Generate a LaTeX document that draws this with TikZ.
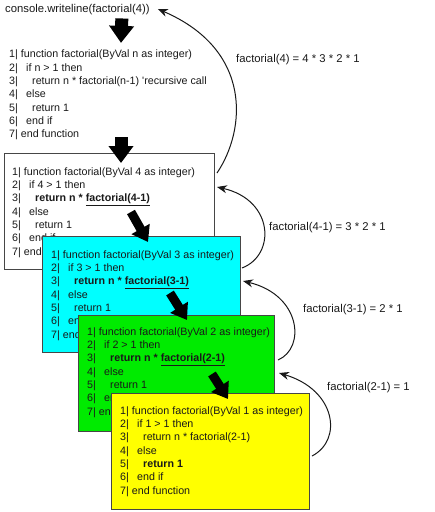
\documentclass[tikz,border=0pt]{standalone}
\usepackage{fontspec}
\setmainfont{Liberation Sans}
\usetikzlibrary{arrows.meta}
\usetikzlibrary{calc}

\definecolor{boxline}{RGB}{70,70,70}
\definecolor{ink}{RGB}{25,25,25}
\definecolor{callcyan}{RGB}{0,255,255}
\definecolor{callgreen}{RGB}{0,235,0}
\definecolor{callyellow}{RGB}{255,255,0}

\newcommand{\lvlone}{\hspace*{8.3pt}}
\newcommand{\lvltwo}{\hspace*{14.3pt}}
\newcommand{\codefont}{\fontsize{10.7}{13.3}\selectfont}
\newcommand{\labelfont}{\fontsize{11.3}{13.5}\selectfont}

\tikzset{
  callbox/.style={draw=boxline,line width=1pt,rectangle,anchor=north west,minimum height=116pt,inner sep=0pt},
  codetext/.style={anchor=west,inner sep=0pt,align=left,font=\codefont,text=ink},
  retlabel/.style={anchor=west,inner sep=0pt,font=\labelfont,text=ink},
  bigarrow/.style={line width=13pt,-{Triangle[length=17pt,width=24pt]}},
  callarrow/.style={line width=9pt,-{Triangle[length=15pt,width=20pt]}},
  retarrow/.style={line width=1pt,draw=ink,-{Stealth[length=10pt,width=8pt]}}
}

\begin{document}
\begin{tikzpicture}[x=1pt,y=-1pt]
\useasboundingbox (0,0) rectangle (435,512);

\node [retlabel] (Call) at (5,10) {console.writeline(factorial(4))};
\node [codetext] (Fun) at (9,95) {1| function factorial(ByVal n as integer)\\
2|\lvlone if n > 1 then\\
3|\lvltwo return n * factorial(n-1) \textquotesingle recursive call\\
4|\lvlone else\\
5|\lvltwo return 1\\
6|\lvlone end if\\
7| end function};

% one box per call
\node [callbox,fill=white,minimum width=210pt] (F4) at (4,153) {};
\node [codetext] (C4) at ($(F4.west)+(8,1)$) {1| function factorial(ByVal 4 as integer)\\
2|\lvlone if 4 > 1 then\\
3|\lvltwo\textbf{return n * \underline{factorial(4-1)}}\\
4|\lvlone else\\
5|\lvltwo return 1\\
6|\lvlone end if\\
7| end function};

\node [callbox,fill=callcyan,minimum width=198pt] (F3) at (42,236) {};
\node [codetext] (C3) at ($(F3.west)+(9,1)$) {1| function factorial(ByVal 3 as integer)\\
2|\lvlone if 3 > 1 then\\
3|\lvltwo\textbf{return n * \underline{factorial(3-1)}}\\
4|\lvlone else\\
5|\lvltwo return 1\\
6|\lvlone end if\\
7| end function};

\node [callbox,fill=callgreen,minimum width=196pt] (F2) at (78,315) {};
\node [codetext] (C2) at ($(F2.west)+(9,-1)$) {1| function factorial(ByVal 2 as integer)\\
2|\lvlone if 2 > 1 then\\
3|\lvltwo\textbf{return n * \underline{factorial(2-1)}}\\
4|\lvlone else\\
5|\lvltwo return 1\\
6|\lvlone end if\\
7| end function};

\node [callbox,fill=callyellow,minimum width=198pt] (F1) at (111,393) {};
\node [codetext] (C1) at ($(F1.west)+(9,0)$) {1| function factorial(ByVal 1 as integer)\\
2|\lvlone if 1 > 1 then\\
3|\lvltwo return n * factorial(2-1)\\
4|\lvlone else\\
5|\lvltwo\textbf{return 1}\\
6|\lvlone end if\\
7| end function};

% calls going down
\draw [bigarrow] ($(Call.south east)+(-28,3)$) -- ($(Fun.north west)+(112,-7)$);
\draw [bigarrow] ($(Fun.south west)+(112,-3)$) -- ($(F4.north west)+(117,10)$);
\draw [callarrow] ($(F4.north west)+(127,59)$) -- ($(F3.north west)+(106,6)$);
\draw [callarrow] ($(F3.north west)+(128,57)$) -- ($(F2.north west)+(109,5)$);
\draw [callarrow] ($(F2.north west)+(134,59)$) -- ($(F1.north west)+(117,6)$);

% results going back up
\draw [retarrow] ($(F4.north east)+(2,20)$) .. controls ($(F4.north east)+(31,-23)$) and ($(Call.east)+(103,40)$) .. ($(Call.east)+(8,-1)$);
\draw [retarrow] ($(F3.north east)+(1,32)$) .. controls ($(F3.north east)+(35,19)$) and ($(F4.north east)+(59,47)$) .. ($(F4.north east)+(2,34)$);
\draw [retarrow] ($(F2.north east)+(3,45)$) .. controls ($(F2.north east)+(31,33)$) and ($(F3.north east)+(60,59)$) .. ($(F3.north east)+(2,45)$);
\draw [retarrow] ($(F1.north east)+(2,63)$) .. controls ($(F1.north east)+(33,47)$) and ($(F2.north east)+(61,75)$) .. ($(F2.north east)+(4,58)$);

\node [retlabel] (R4) at (236,60) {factorial(4) = 4 * 3 * 2 * 1};
\node [retlabel] (R3) at (269,228) {factorial(4-1) = 3 * 2 * 1};
\node [retlabel] (R2) at (303,310) {factorial(3-1) = 2 * 1};
\node [retlabel] (R1) at (327,388) {factorial(2-1) = 1};
\end{tikzpicture}
\end{document}
